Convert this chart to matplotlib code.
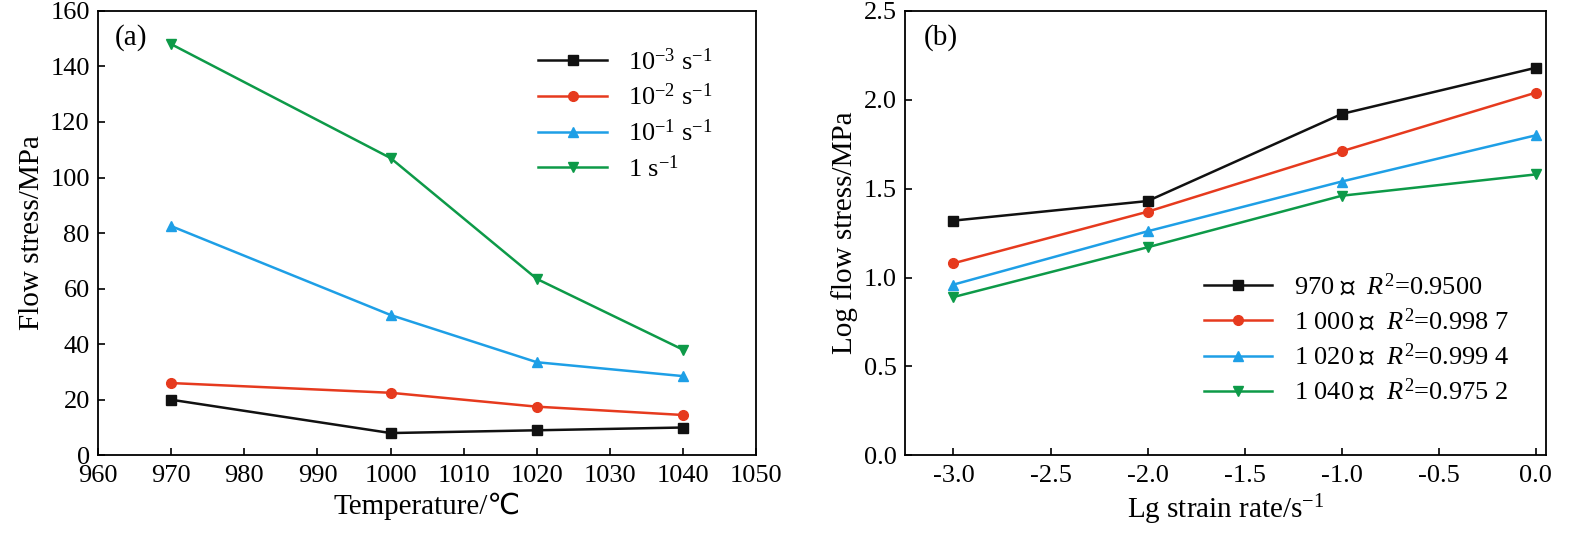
import matplotlib
matplotlib.use("Agg")
import matplotlib.pyplot as plt

plt.rcParams['font.family'] = ['Liberation Serif', 'DejaVu Sans']
plt.rcParams['mathtext.fontset'] = 'custom'
plt.rcParams['mathtext.rm'] = 'Liberation Serif'
plt.rcParams['mathtext.it'] = 'Liberation Serif:italic'
plt.rcParams['mathtext.fallback'] = 'stix'

# panel (a)
temps = [970, 1000, 1020, 1040]
s_3 = [20, 8, 9, 10]
s_2 = [26, 22.5, 17.5, 14.5]
s_1 = [82.5, 50.5, 33.5, 28.5]
s_0 = [148, 107, 63.5, 38]
labels_a = [r'10$^{-3}$ s$^{-1}$', r'10$^{-2}$ s$^{-1}$', r'10$^{-1}$ s$^{-1}$', r'1 s$^{-1}$']

# panel (b)
lg_rate = [-3, -2, -1, 0]
t970 = [1.32, 1.43, 1.92, 2.18]
t1000 = [1.08, 1.37, 1.71, 2.04]
t1020 = [0.96, 1.26, 1.54, 1.80]
t1040 = [0.89, 1.17, 1.46, 1.58]
labels_b = [r'970 ℃  $R^2$=0.9500', r'1 000 ℃  $R^2$=0.998 7',
            r'1 020 ℃  $R^2$=0.999 4', r'1 040 ℃  $R^2$=0.975 2']

colors = ['#111111', '#e63a1e', '#1e9fe6', '#0d9a48']
markers = ['s', 'o', '^', 'v']

fig = plt.figure(figsize=(15.82, 5.42), dpi=100)
ax1 = fig.add_axes([0.062, 0.160, 0.416, 0.820])
ax2 = fig.add_axes([0.572, 0.160, 0.405, 0.820])

for ys, c, m, l in zip([s_3, s_2, s_1, s_0], colors, markers, labels_a):
    ax1.plot(temps, ys, color=c, marker=m, ms=7, lw=1.8, label=l)
ax1.set_xlim(960, 1050)
ax1.set_ylim(0, 160)
ax1.set_xticks(range(960, 1051, 10))
ax1.set_yticks(range(0, 161, 20))
ax1.set_xlabel('Temperature/℃', fontsize=21)
ax1.set_ylabel('Flow stress/MPa', fontsize=21)
ax1.text(0.025, 0.97, '(a)', transform=ax1.transAxes, fontsize=21, va='top')
ax1.legend(loc='upper right', bbox_to_anchor=(0.97, 0.97), frameon=False,
           fontsize=19, handlelength=2.6, labelspacing=0.35)

for ys, c, m, l in zip([t970, t1000, t1020, t1040], colors, markers, labels_b):
    ax2.plot(lg_rate, ys, color=c, marker=m, ms=7, lw=1.8, label=l)
ax2.set_xlim(-3.25, 0.05)
ax2.set_ylim(0, 2.5)
ax2.set_xticks([-3.0, -2.5, -2.0, -1.5, -1.0, -0.5, 0.0])
ax2.set_yticks([0.0, 0.5, 1.0, 1.5, 2.0, 2.5])
ax2.xaxis.set_major_formatter(plt.FormatStrFormatter('%.1f'))
ax2.yaxis.set_major_formatter(plt.FormatStrFormatter('%.1f'))
ax2.set_xlabel(r'Lg strain rate/s$^{-1}$', fontsize=21)
ax2.set_ylabel('Log flow stress/MPa', fontsize=21)
ax2.text(0.03, 0.97, '(b)', transform=ax2.transAxes, fontsize=21, va='top')
ax2.legend(loc='lower right', bbox_to_anchor=(0.98, 0.06), frameon=False,
           fontsize=19, handlelength=2.6, labelspacing=0.3)

for ax in (ax1, ax2):
    ax.tick_params(direction='in', labelsize=19, length=5, width=1.2)
    ax.tick_params(axis='x', pad=7)
    ax.tick_params(axis='y', pad=6)
    for sp in ax.spines.values():
        sp.set_linewidth(1.3)

fig.savefig('out.png', dpi=100)
